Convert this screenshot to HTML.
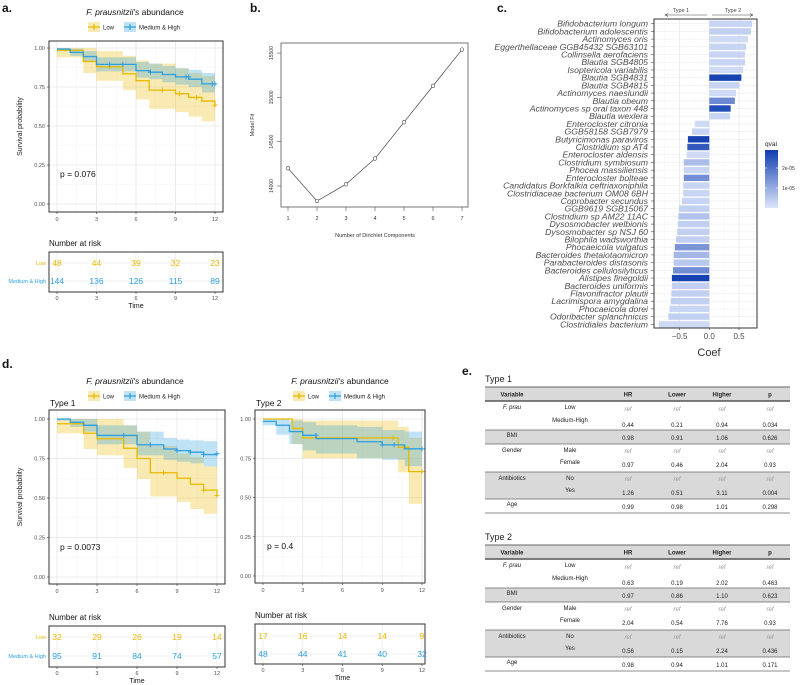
<!DOCTYPE html>
<html><head><meta charset="utf-8"><style>
html,body{margin:0;padding:0;background:#fff;}
svg{display:block;font-family:"Liberation Sans",sans-serif;}
</style></head><body>
<svg id="fig" width="800" height="685" viewBox="0 0 800 685" xmlns="http://www.w3.org/2000/svg"></svg>
<script>
// ---------- DATA ----------
// Panel a
const aLowT=[0,2,3,5,6,7,9,10,11,12];
const aLowS=[0.985,0.914,0.88,0.835,0.79,0.73,0.707,0.683,0.66,0.634];
const aLowLo=[0.94,0.84,0.79,0.73,0.67,0.61,0.59,0.56,0.53,0.53];
const aLowHi=[1,1,0.98,0.95,0.92,0.9,0.87,0.84,0.82,0.82];
const aLowCT=[4,8,9.3,10.6,12];
const aLowCS=[0.88,0.73,0.707,0.683,0.634];
const aMhT=[0,1,2,3,6,7,8,9,10,11];
const aMhS=[0.993,0.972,0.945,0.895,0.855,0.845,0.83,0.815,0.8,0.77];
const aMhLo=[0.98,0.95,0.91,0.85,0.81,0.8,0.78,0.765,0.75,0.715];
const aMhHi=[1,0.995,0.98,0.94,0.91,0.9,0.885,0.87,0.86,0.84];
const aMhCT=[4,5,7.1,9.8,10,11.8,12];
const aMhCS=[0.895,0.895,0.845,0.815,0.815,0.77,0.77];
const aRiskLow=[48,44,39,32,23];
const aRiskMh=[144,136,126,115,89];
// Panel d type 1
const d1LowT=[0,2,3,5,6,7,9,10,11,12];
const d1LowS=[0.97,0.91,0.875,0.815,0.75,0.66,0.625,0.587,0.55,0.515];
const d1LowLo=[0.91,0.81,0.77,0.69,0.62,0.51,0.475,0.43,0.40,0.40];
const d1LowHi=[1,1,1,0.96,0.92,0.83,0.78,0.76,0.70,0.70];
const d1LowCT=[8,11,12];
const d1LowCS=[0.66,0.55,0.515];
const d1MhT=[0,1,2,3,6,8,9,10,11];
const d1MhS=[1,0.979,0.96,0.896,0.837,0.81,0.8,0.79,0.775];
const d1MhLo=[0.99,0.95,0.92,0.84,0.77,0.74,0.73,0.72,0.70];
const d1MhHi=[1,1,1,0.96,0.92,0.88,0.87,0.865,0.86];
const d1MhCT=[5,7,9,10,11,12];
const d1MhCS=[0.896,0.837,0.8,0.79,0.775,0.78];
const d1RiskLow=[32,29,26,19,14];
const d1RiskMh=[95,91,84,74,57];
// Panel d type 2
const d2LowT=[0,2.2,3,10.2,11];
const d2LowS=[1,0.94,0.88,0.82,0.665];
const d2LowLo=[1,0.84,0.75,0.66,0.46];
const d2LowHi=[1,1,0.99,0.95,0.88];
const d2LowCT=[9.8,10.6,12];
const d2LowCS=[0.88,0.82,0.665];
const d2MhT=[0,1,2,3,4,7.1,9,10.7];
const d2MhS=[0.985,0.96,0.92,0.896,0.875,0.855,0.835,0.81];
const d2MhLo=[0.96,0.90,0.84,0.80,0.78,0.75,0.74,0.70];
const d2MhHi=[1,1,0.99,0.98,0.96,0.95,0.93,0.92];
const d2MhCT=[4,9,9.9,12];
const d2MhCS=[0.896,0.835,0.835,0.81];
const d2RiskLow=[17,16,14,14,9];
const d2RiskMh=[48,44,41,40,32];
const riskTimes=[0,3,6,9,12];
// Panel b
const bK=[1,2,3,4,5,6,7];
const bFit=[14200,13830,14020,14310,14720,15130,15540];
const bYTicks=[14000,14500,15000,15500];
// Panel c
const cTaxa=["Bifidobacterium longum","Bifidobacterium adolescentis","Actinomyces oris","Eggerthellaceae GGB45432 SGB63101","Collinsella aerofaciens","Blautia SGB4805","Isoptericola variabilis","Blautia  SGB4831","Blautia SGB4815","Actinomyces naeslundii","Blautia obeum","Actinomyces sp oral taxon 448","Blautia wexlera","Enterocloster citronia","GGB58158 SGB7979","Butyricimonas paraviros","Clostridium sp AT4","Enterocloster aldensis","Clostridium symbiosum","Phocea massiliensis","Enterocloster bolteae","Candidatus Borkfalkia ceftriaxoniphila","Clostridiaceae bacterium OM08 6BH","Coprobacter secundus","GGB9619 SGB15067","Clostridium sp AM22 11AC","Dysosmobacter welbionis","Dysosmobacter sp NSJ 60","Bilophila wadsworthia","Phocaeicola vulgatus","Bacteroides thetaiotaomicron","Parabacteroides distasonis","Bacteroides cellulosilyticus","Alistipes finegoldii","Bacteroides uniformis","Flavonifractor plautii","Lacrimispora amygdalina","Phocaeicola dorei","Odoribacter splanchnicus","Clostridiales bacterium"];
const cCoef=[0.72,0.70,0.65,0.62,0.60,0.60,0.57,0.54,0.51,0.45,0.43,0.36,0.35,-0.24,-0.29,-0.36,-0.37,-0.38,-0.43,-0.43,-0.43,-0.44,-0.44,-0.46,-0.51,-0.52,-0.53,-0.54,-0.56,-0.58,-0.60,-0.60,-0.61,-0.63,-0.63,-0.64,-0.65,-0.67,-0.69,-0.85];
const cQval=[0.3e-5,0.4e-5,0.2e-5,0.3e-5,0.3e-5,0.3e-5,0.2e-5,2.8e-5,0.3e-5,0.2e-5,1.6e-5,2.6e-5,0.3e-5,0.2e-5,0.3e-5,2.8e-5,2.4e-5,0.2e-5,0.7e-5,0.3e-5,1.5e-5,0.3e-5,0.3e-5,0.3e-5,0.4e-5,0.6e-5,0.4e-5,0.4e-5,0.4e-5,1.4e-5,0.8e-5,0.5e-5,1.5e-5,2.8e-5,0.4e-5,0.4e-5,0.4e-5,0.3e-5,0.4e-5,0.2e-5];
const cXTicks=[-0.5,0,0.5];
// Panel e
const eRows1=[["F. prau","Low","ref","ref","ref","ref"],["","Medium-High","0.44","0.21","0.94","0.034"],["BMI","","0.98","0.91","1.06","0.626"],["Gender","Male","ref","ref","ref","ref"],["","Female","0.97","0.46","2.04","0.93"],["Antibiotics","No","ref","ref","ref","ref"],["","Yes","1.26","0.51","3.11","0.004"],["Age","","0.99","0.98","1.01","0.298"]];
const eRows2=[["F. prau","Low","ref","ref","ref","ref"],["","Medium-High","0.63","0.19","2.02","0.463"],["BMI","","0.97","0.86","1.10","0.623"],["Gender","Male","ref","ref","ref","ref"],["","Female","2.04","0.54","7.76","0.93"],["Antibiotics","No","ref","ref","ref","ref"],["","Yes","0.56","0.15","2.24","0.436"],["Age","","0.98","0.94","1.01","0.171"]];

// ---------- HELPERS ----------
const NS="http://www.w3.org/2000/svg";
const svg=document.getElementById('fig');
function mk(tag,attrs,parent){const e=document.createElementNS(NS,tag);for(const k in attrs)e.setAttribute(k,attrs[k]);(parent||svg).appendChild(e);return e;}
function txt(s,x,y,size,opts,parent){const o=Object.assign({x:x,y:y,'font-size':size,fill:'#222'},opts||{});const t=mk('text',o,parent);t.textContent=s;return t;}
const LOWC="#E7B800", MHC="#2E9FDF";

function panelLabel(s,x,y){const t=txt(s,x,y,12,{'font-weight':'bold',fill:'#111'});

}
panelLabel('a.',2,12);panelLabel('b.',250,12);panelLabel('c.',497,12);panelLabel('d.',2,368);panelLabel('e.',462,375);

function kmPanel(cfg){
  const g=mk('g',{});
  
  
  const X=t=>cfg.x0+(cfg.x12-cfg.x0)*t/12, Y=s=>cfg.y0-(cfg.y0-cfg.y1)*s;
  mk('rect',{x:cfg.bx,y:cfg.by,width:cfg.bw,height:cfg.bh,fill:'#fff'},g);
  for(let t=0;t<=12;t+=1.5){mk('line',{x1:X(t),x2:X(t),y1:cfg.by,y2:cfg.by+cfg.bh,stroke:(t%3==0)?'#e6e6e6':'#f3f3f3','stroke-width':(t%3==0)?0.8:0.5},g);}
  for(let s=0;s<=1.0001;s+=0.125){const maj=Math.round(s*8)%2==0;mk('line',{x1:cfg.bx,x2:cfg.bx+cfg.bw,y1:Y(s),y2:Y(s),stroke:maj?'#e6e6e6':'#f3f3f3','stroke-width':maj?0.8:0.5},g);}
  cfg.series.forEach(se=>{
    for(let i=0;i<se.T.length;i++){const t1=i+1<se.T.length?se.T[i+1]:12;if(t1<=se.T[i])continue;
      const r=mk('rect',{x:X(se.T[i]),y:Y(se.Hi[i]),width:X(t1)-X(se.T[i]),height:Math.max(0,Y(se.Lo[i])-Y(se.Hi[i])),fill:se.c,'fill-opacity':0.3},g);
      
      }
  });
  cfg.series.forEach(se=>{
    let d='M'+X(se.T[0])+' '+Y(se.S[0]);
    for(let i=1;i<se.T.length;i++){d+=' H'+X(se.T[i])+' V'+Y(se.S[i]);}
    d+=' H'+X(12);
    const p=mk('path',{d:d,fill:'none',stroke:se.c,'stroke-width':1.3},g);
    
    
    se.CT.forEach((t,i)=>{const cx=X(t),cy=Y(se.CS[i]);
      const m=mk('path',{d:`M${cx-2.5} ${cy}H${cx+2.5}M${cx} ${cy-2.5}V${cy+2.5}`,stroke:se.c,'stroke-width':1},g);
      
      });
  });
  mk('rect',{x:cfg.bx,y:cfg.by,width:cfg.bw,height:cfg.bh,fill:'none',stroke:'#333','stroke-width':1},g);
  [0,0.25,0.5,0.75,1].forEach(s=>{mk('line',{x1:cfg.bx-2,x2:cfg.bx,y1:Y(s),y2:Y(s),stroke:'#333','stroke-width':0.6},g);
    txt(s.toFixed(2),cfg.bx-4,Y(s)+2,5.5,{'text-anchor':'end',fill:'#4d4d4d'},g);});
  [0,3,6,9,12].forEach(t=>{mk('line',{x1:X(t),x2:X(t),y1:cfg.by+cfg.bh,y2:cfg.by+cfg.bh+2,stroke:'#333','stroke-width':0.6},g);
    txt(String(t),X(t),cfg.by+cfg.bh+9,5.5,{'text-anchor':'middle',fill:'#4d4d4d'},g);});
  if(cfg.ylab){const yl=txt('Survival probability',0,0,7,{'text-anchor':'middle',transform:`translate(22,${(cfg.by+cfg.bh/2)}) rotate(-90)`},g);
    
    }
  const pv=txt(cfg.p,cfg.px,cfg.py,8.5,{fill:'#111'},g);
  
  
  const tt=mk('text',{x:cfg.tcx,y:cfg.ty,'font-size':8.5,'text-anchor':'middle',fill:'#111'},g);
  const ti=mk('tspan',{'font-style':'italic'},tt);ti.textContent="F. prausnitzii's";
  const tr=mk('tspan',{},tt);tr.textContent=" abundance";
  
  
  const lx=cfg.tcx-47, ly=cfg.ly;
  [[LOWC,'Low',lx],[MHC,'Medium & High',lx+36]].forEach(([c,l,x])=>{
    const lg=mk('g',{},g);
    
    
    mk('rect',{x:x,y:ly-5,width:12,height:10,fill:c,'fill-opacity':0.3},lg);
    mk('path',{d:`M${x} ${ly}H${x+12}M${x+6} ${ly-3}V${ly+3}`,stroke:c,'stroke-width':1.2},lg);
    txt(l,x+15,ly+2.5,6,{fill:'#222'},lg);});
  if(cfg.sub){const st=txt(cfg.sub,cfg.bx+1,cfg.by-4,8.5,{fill:'#111'},g);
    
    }
  const rt=cfg.risk;
  const rh=txt('Number at risk',cfg.bx,rt.ty,8,{fill:'#111'},g);
  
  
  mk('rect',{x:cfg.bx,y:rt.by,width:cfg.bw,height:rt.bh,fill:'#fff'},g);
  riskTimes.forEach(t=>mk('line',{x1:X(t),x2:X(t),y1:rt.by,y2:rt.by+rt.bh,stroke:'#ececec','stroke-width':0.8},g));
  [rt.r1,rt.r2].forEach(y=>mk('line',{x1:cfg.bx,x2:cfg.bx+cfg.bw,y1:y,y2:y,stroke:'#ececec','stroke-width':0.8},g));
  mk('rect',{x:cfg.bx,y:rt.by,width:cfg.bw,height:rt.bh,fill:'none',stroke:'#333','stroke-width':1},g);
  riskTimes.forEach((t,i)=>{
    const a=txt(String(rt.low[i]),X(t),rt.r1+3,8.5,{'text-anchor':'middle',fill:LOWC},g);
    
    
    const b=txt(String(rt.mh[i]),X(t),rt.r2+3,8.5,{'text-anchor':'middle',fill:MHC},g);
    
    
    mk('line',{x1:X(t),x2:X(t),y1:rt.by+rt.bh,y2:rt.by+rt.bh+2,stroke:'#333','stroke-width':0.6},g);
    txt(String(t),X(t),rt.by+rt.bh+8,5.5,{'text-anchor':'middle',fill:'#4d4d4d'},g);});
  if(rt.labels){txt('Low',cfg.bx-3,rt.r1+2,5.5,{'text-anchor':'end',fill:LOWC},g);
    txt('Medium & High',cfg.bx-3,rt.r2+2,5.5,{'text-anchor':'end',fill:MHC},g);}
  const tl=txt('Time',(X(0)+X(12))/2,rt.by+rt.bh+16,7,{'text-anchor':'middle',fill:'#111'},g);
  
  
}

kmPanel({name:'km-plot-overall',bx:49,by:41,bw:174,bh:171,x0:57,x12:215,y1:48,y0:204,ylab:true,p:'p = 0.076',px:60,py:177,tcx:135,ty:15,ly:27,
  series:[{key:'low',c:LOWC,T:aLowT,S:aLowS,Lo:aLowLo,Hi:aLowHi,CT:aLowCT,CS:aLowCS},{key:'medium-high',c:MHC,T:aMhT,S:aMhS,Lo:aMhLo,Hi:aMhHi,CT:aMhCT,CS:aMhCS}],
  risk:{ty:246,by:252,bh:40,r1:263,r2:281,low:aRiskLow,mh:aRiskMh,labels:true}});
kmPanel({name:'km-plot-type1',bx:49,by:410,bw:176,bh:174,x0:57,x12:217,y1:419,y0:577,ylab:true,p:'p = 0.0073',px:60,py:550,tcx:135,ty:384,ly:396,sub:'Type 1',
  series:[{key:'low',c:LOWC,T:d1LowT,S:d1LowS,Lo:d1LowLo,Hi:d1LowHi,CT:d1LowCT,CS:d1LowCS},{key:'medium-high',c:MHC,T:d1MhT,S:d1MhS,Lo:d1MhLo,Hi:d1MhHi,CT:d1MhCT,CS:d1MhCS}],
  risk:{ty:620,by:626,bh:41,r1:637,r2:656,low:d1RiskLow,mh:d1RiskMh,labels:true}});
kmPanel({name:'km-plot-type2',bx:255,by:410,bw:170,bh:173,x0:263,x12:422,y1:419,y0:576,ylab:false,p:'p = 0.4',px:267,py:549,tcx:340,ty:384,ly:396,sub:'Type 2',
  series:[{key:'low',c:LOWC,T:d2LowT,S:d2LowS,Lo:d2LowLo,Hi:d2LowHi,CT:d2LowCT,CS:d2LowCS},{key:'medium-high',c:MHC,T:d2MhT,S:d2MhS,Lo:d2MhLo,Hi:d2MhHi,CT:d2MhCT,CS:d2MhCS}],
  risk:{ty:618,by:624,bh:40,r1:636,r2:654,low:d2RiskLow,mh:d2RiskMh,labels:false}});

// ---------- Panel b ----------
(function(){
  const g=mk('g',{});
  
  
  const X=k=>288+(k-1)*29, Y=v=>186-(v-14000)*44.3/500;
  mk('rect',{x:281,y:43,width:187,height:164,fill:'none',stroke:'#555','stroke-width':0.8},g);
  bYTicks.forEach(v=>{mk('line',{x1:277,x2:281,y1:Y(v),y2:Y(v),stroke:'#555','stroke-width':0.6},g);
    txt(String(v),0,0,5,{'text-anchor':'middle',fill:'#333',transform:`translate(273,${Y(v)}) rotate(-90)`},g);});
  bK.forEach(k=>{mk('line',{x1:X(k),x2:X(k),y1:207,y2:211,stroke:'#555','stroke-width':0.6},g);
    txt(String(k),X(k),220,5.5,{'text-anchor':'middle',fill:'#333'},g);});
  let d='';bK.forEach((k,i)=>{d+=(i?'L':'M')+X(k)+' '+Y(bFit[i]);});
  const ln=mk('path',{d:d,fill:'none',stroke:'#444','stroke-width':0.7},g);
  
  
  bK.forEach((k,i)=>{const c=mk('circle',{cx:X(k),cy:Y(bFit[i]),r:1.8,fill:'#fff',stroke:'#444','stroke-width':0.6},g);
    
    });
  const xt=txt('Number of Dirichlet Components',375,237,5.5,{'text-anchor':'middle',fill:'#333'},g);
  
  
  const yt=txt('Model Fit',0,0,5.5,{'text-anchor':'middle',fill:'#333',transform:'translate(254,125) rotate(-90)'},g);
  
  
})();

// ---------- Panel c ----------
(function(){
  const g=mk('g',{});
  
  
  const X=v=>709.3+v*59.4, step=(324.3-23.7)/39, Yc=i=>23.7+i*step;
  const bx=654,by=19,bw=103,bh=309;
  mk('rect',{x:bx,y:by,width:bw,height:bh,fill:'#fff'},g);
  [-0.75,-0.5,-0.25,0,0.25,0.5,0.75].forEach(v=>{const maj=(v*4)%2==0;mk('line',{x1:X(v),x2:X(v),y1:by,y2:by+bh,stroke:maj?'#e8e8e8':'#f4f4f4','stroke-width':maj?0.8:0.5},g);});
  cTaxa.forEach((n,i)=>mk('line',{x1:bx,x2:bx+bw,y1:Yc(i),y2:Yc(i),stroke:'#ededed','stroke-width':0.6},g));
  const lo=[221,230,251],hi=[15,60,175],qmax=2.9e-5;
  function col(q){const f=Math.min(1,q/qmax);return `rgb(${Math.round(lo[0]+(hi[0]-lo[0])*f)},${Math.round(lo[1]+(hi[1]-lo[1])*f)},${Math.round(lo[2]+(hi[2]-lo[2])*f)})`;}
  cTaxa.forEach((n,i)=>{
    const v=cCoef[i];const x1=Math.min(X(0),X(v)),w=Math.abs(X(v)-X(0));
    const r=mk('rect',{x:x1,y:Yc(i)-3.2,width:w,height:6.4,fill:col(cQval[i])},g);
    
    
    const t=txt(n,648,Yc(i)+3,8.7,{'text-anchor':'end','font-style':'italic',fill:'#4d4d4d'},g);
    
    
    mk('line',{x1:651,x2:654,y1:Yc(i),y2:Yc(i),stroke:'#333','stroke-width':0.5},g);
  });
  mk('rect',{x:bx,y:by,width:bw,height:bh,fill:'none',stroke:'#333','stroke-width':1},g);
  cXTicks.forEach(v=>{mk('line',{x1:X(v),x2:X(v),y1:by+bh,y2:by+bh+2,stroke:'#333','stroke-width':0.6},g);
    txt(v.toFixed(1).replace('-','\u2212'),X(v),by+bh+11,8,{'text-anchor':'middle',fill:'#4d4d4d'},g);});
  const ct=txt('Coef',709,356,11,{'text-anchor':'middle',fill:'#333'},g);
  
  
  const ag=mk('g',{},g);
  
  
  mk('path',{d:'M665 15H707M665 15l3 -1.5M665 15l3 1.5M712 15H753M753 15l-3 -1.5M753 15l-3 1.5',stroke:'#444','stroke-width':0.6,fill:'none'},ag);
  txt('Type 1',681,12,5.5,{'text-anchor':'middle',fill:'#444'},ag);
  txt('Type 2',733,12,5.5,{'text-anchor':'middle',fill:'#444'},ag);
  const lg=mk('g',{},g);
  
  
  txt('qval',765,146,6.5,{fill:'#222'},lg);
  const defs=mk('defs',{},lg);
  const gr=mk('linearGradient',{id:'qg',x1:0,y1:1,x2:0,y2:0},defs);
  mk('stop',{offset:0,'stop-color':col(0)},gr);mk('stop',{offset:1,'stop-color':col(qmax)},gr);
  mk('rect',{x:765,y:150,width:13,height:58,fill:'url(#qg)'},lg);
  [[2e-5,'2e-05'],[1e-5,'1e-05']].forEach(([q,l])=>{const y=208-q/qmax*58;
    mk('line',{x1:765,x2:767,y1:y,y2:y,stroke:'#fff','stroke-width':0.6},lg);mk('line',{x1:776,x2:778,y1:y,y2:y,stroke:'#fff','stroke-width':0.6},lg);
    txt(l,782,y+2,5,{fill:'#333'},lg);});
})();

// ---------- Panel e ----------
function coxTable(title,rows,T,name){
  const g=mk('g',{});
  
  
  txt(title,485,T-5,9,{fill:'#222'},g);
  const L=485,R=790,W=R-L;
  const cols=[512,570,628,677,722,770];
  mk('rect',{x:L,y:T,width:W,height:14,fill:'#d9d9d9'},g);
  mk('rect',{x:L,y:T+43,width:W,height:14,fill:'#d9d9d9'},g);
  mk('rect',{x:L,y:T+85,width:W,height:27,fill:'#d9d9d9'},g);
  mk('line',{x1:L,x2:R,y1:T,y2:T,stroke:'#666','stroke-width':1},g);
  mk('line',{x1:L,x2:R,y1:T+14,y2:T+14,stroke:'#555','stroke-width':1.5},g);
  [43,57,85,112,126].forEach(o=>mk('line',{x1:L,x2:R,y1:T+o,y2:T+o,stroke:'#666','stroke-width':0.8},g));
  ['Variable','','HR','Lower','Higher','p'].forEach((h,i)=>{if(h)txt(h,cols[i],T+9.5,6,{'text-anchor':'middle','font-weight':'bold',fill:'#222'},g);});
  const lab=[22,35,50,65,77,93,105,119], val=[24,40,53,66,80,94,108,122];
  rows.forEach((r,ri)=>{
    if(r[0]){const t=txt(r[0],cols[0],T+lab[ri],6,{'text-anchor':'middle',fill:'#222','font-style':r[0]=='F. prau'?'italic':'normal'},g);
      
      }
    if(r[1])txt(r[1],cols[1],T+lab[ri],6,{'text-anchor':'middle',fill:'#222'},g);
    for(let c=2;c<6;c++){const isRef=r[c]=='ref';
      const t=txt(r[c],cols[c],T+val[ri],6,{'text-anchor':'middle',fill:isRef?'#999':'#222','font-style':isRef?'italic':'normal'},g);
      
      }
  });
}
coxTable('Type 1',eRows1,387,'cox-table-type1');
coxTable('Type 2',eRows2,545,'cox-table-type2');
</script>
</body></html>
